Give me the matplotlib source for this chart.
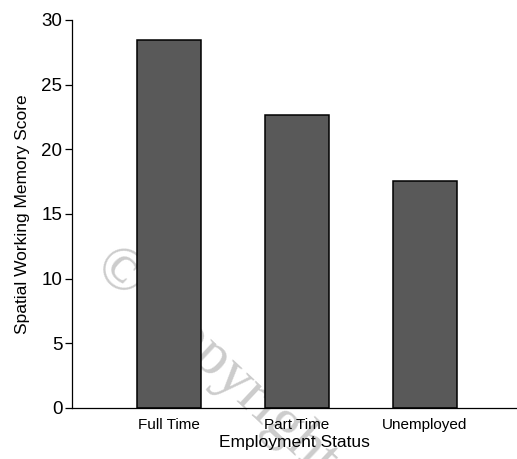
import matplotlib
matplotlib.use("Agg")
import matplotlib.pyplot as plt

# values
categories = ["Full Time", "Part Time", "Unemployed"]
scores = [28.45, 22.68, 17.55]
y_ticks = [0, 5, 10, 15, 20, 25, 30]

plt.rcParams['font.family'] = ['Liberation Sans', 'DejaVu Sans']

fig = plt.figure(figsize=(5.17, 4.59), dpi=100)
ax = fig.add_axes([72 / 517, 1 - 408 / 459, 1 - 72 / 517, (408 - 20) / 459])

x = [1, 2, 3]
ax.bar(x, scores, width=0.5, color="#595959", edgecolor="black", linewidth=1.1, zorder=3)

# faint watermark behind the bars
ax.text(0.199, 0.44, "\u00a9 Copyright", fontsize=44, family="Liberation Serif",
        color="#cccccc", rotation=-43, rotation_mode="anchor",
        ha="left", va="center", transform=fig.transFigure,
        zorder=1, clip_on=False)

ax.set_xlim(0.246, 3.72)
ax.set_ylim(0, 30)
ax.set_yticks(y_ticks)
ax.set_xticks(x)
ax.set_xticklabels(categories, fontsize=11)
ax.tick_params(axis="x", length=0, pad=7)
ax.tick_params(axis="y", length=5, width=0.9, labelsize=13.5, pad=2)

ax.spines["top"].set_visible(False)
ax.spines["right"].set_visible(False)
ax.spines["left"].set_linewidth(0.9)
ax.spines["bottom"].set_linewidth(0.9)
for sp in ax.spines.values():
    sp.set_zorder(4)

ax.set_xlabel("Employment Status", fontsize=12.5, labelpad=2)
ax.set_ylabel("Spatial Working Memory Score", fontsize=12.5, labelpad=8)

fig.savefig("out.png", dpi=100)
